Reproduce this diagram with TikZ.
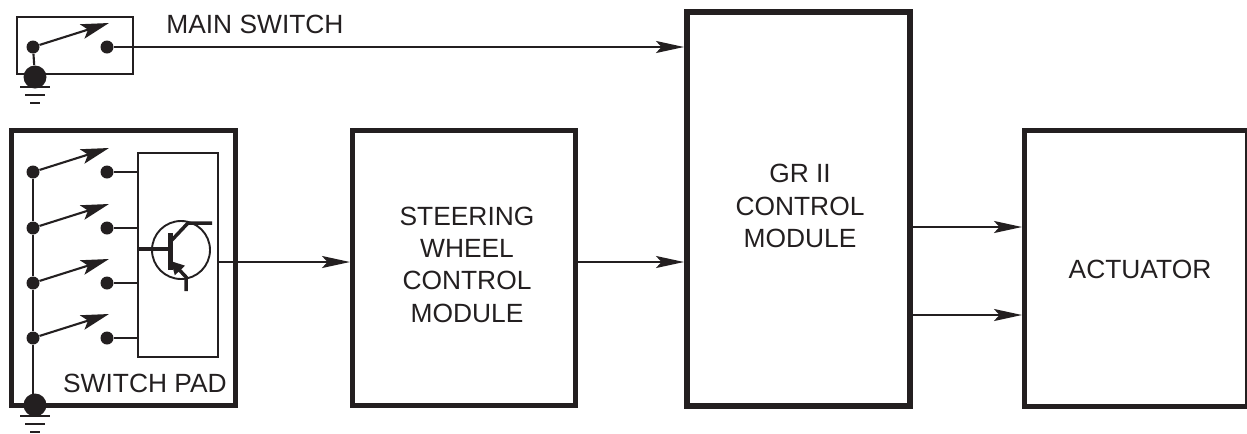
\documentclass[tikz,border=0pt]{standalone}
\usepackage{fontspec}
\setmainfont{Liberation Sans}
\usetikzlibrary{arrows.meta,calc}
\definecolor{ink}{HTML}{231F20}

\begin{document}
\begin{tikzpicture}[
  x=.2mm,y=.2mm,font=\fontsize{15}{18.4}\selectfont,text=ink,
  block/.style={draw=ink,line width=.9mm,inner sep=0pt,anchor=north west},
  thinbox/.style={draw=ink,line width=.4mm,inner sep=0pt,anchor=north west},
  pin/.style={circle,fill=ink,inner sep=0pt,minimum size=2.6mm},
  earth/.style={circle,fill=ink,inner sep=0pt,minimum size=4.6mm},
  wire/.style={draw=ink,line width=.42mm},
  flow/.style={wire,-{Stealth[length=5.6mm,width=2.4mm,inset=1.1mm]}},
  lever/.style={wire,-{Stealth[length=5.6mm,width=3mm,inset=1.2mm]}},
  lead/.style={draw=ink,line width=.7mm},
  rail/.style={draw=ink,line width=.4mm}
]
\path[use as bounding box] (0,0) rectangle (1247,-433);
% main switch
\node[thinbox,minimum width=23.2mm,minimum height=11.4mm] (mainbox) at (16,-16) {};
\node[pin] (mainfrom) at (33,-47) {};
\node[pin] (mainto) at (107,-47) {};
\coordinate (maintip) at (109,-23);
\node[earth] (mainearth) at (35,-77) {};
\draw[lever] (mainfrom) -- (maintip);
\draw[wire] (mainfrom) -- (mainearth);
\coordinate (mainrail) at (35,-87);
\draw[rail] ($(mainrail)+(-15,0)$) -- ($(mainrail)+(15,0)$);
\draw[rail] ($(mainrail)+(-10,-8)$) -- ($(mainrail)+(10,-8)$);
\draw[rail] ($(mainrail)+(-5,-16)$) -- ($(mainrail)+(5,-16)$);
\node[anchor=west,inner sep=0pt] (mainlabel) at (166,-24) {MAIN SWITCH};

% switch pad
\node[block,minimum width=44.8mm,minimum height=55mm] (pad) at (9,-128) {};
\node[thinbox,minimum width=16mm,minimum height=40.8mm] (driver) at (136.5,-151.5) {};
\node[anchor=east,inner sep=0pt] (padlabel) at (227,-383) {SWITCH PAD};
\node[earth] (padearth) at (35,-405) {};
\foreach \n/\y in {1/172,2/228,3/283,4/338}{
  \node[pin] (from\n) at (33,-\y) {};
  \node[pin] (to\n) at (107,-\y) {};
  \coordinate (tip\n) at (109,-\y+24);
  \draw[lever] (from\n) -- (tip\n);
  \draw[wire] (to\n) -- (to\n -| driver.west);
}
\draw[wire] (from1) -- (from2) -- (from3) -- (from4) -- (from4 |- padearth);
\coordinate (padrail) at (35,-416);
\draw[rail] ($(padrail)+(-15,0)$) -- ($(padrail)+(15,0)$);
\draw[rail] ($(padrail)+(-10,-8)$) -- ($(padrail)+(10,-8)$);
\draw[rail] ($(padrail)+(-5,-16)$) -- ($(padrail)+(5,-16)$);

% transistor
\node[circle,draw=ink,line width=.38mm,minimum size=11.6mm,inner sep=0pt] (npn) at (181,-250) {};
\coordinate (base) at (139,-249);
\coordinate (bartop) at (170.5,-233);
\coordinate (barbot) at (170.5,-270);
\draw[lead] (base) -- (base -| bartop);
\draw[draw=ink,line width=.95mm] (bartop) -- (barbot);
\draw[lead] (171,-241) -- (188,-223) -- (212,-223);
\draw[lead,{Stealth[length=2.6mm,width=2.6mm,inset=0mm]}-] (171,-261) -- (186,-277) -- (186,-291);

% modules
\node[block,minimum width=44.6mm,minimum height=55mm] (wheel) at (350,-128) {};
\node[align=center,inner sep=0pt] (wheellabel) at (467,-264.5) {STEERING\\WHEEL\\CONTROL\\MODULE};
\node[block,line width=1.1mm,minimum width=44.6mm,minimum height=78.8mm] (gr) at (684,-9) {};
\node[align=center,inner sep=0pt] (grlabel) at (800,-206) {GR II\\CONTROL\\MODULE};
\node[block,minimum width=44.6mm,minimum height=55.2mm] (act) at (1022,-128) {};
\node[inner sep=0pt] (actlabel) at (1140,-269) {ACTUATOR};

% connectors
\draw[flow] (mainto) -- (mainto -| gr.west);
\draw[flow] (driver.east |- 0,-262) -- (wheel.west |- 0,-262);
\draw[flow] (wheel.east |- 0,-262) -- (gr.west |- 0,-262);
\draw[flow] (gr.east |- 0,-227) -- (act.west |- 0,-227);
\draw[flow] (gr.east |- 0,-315) -- (act.west |- 0,-315);
\end{tikzpicture}
\end{document}
